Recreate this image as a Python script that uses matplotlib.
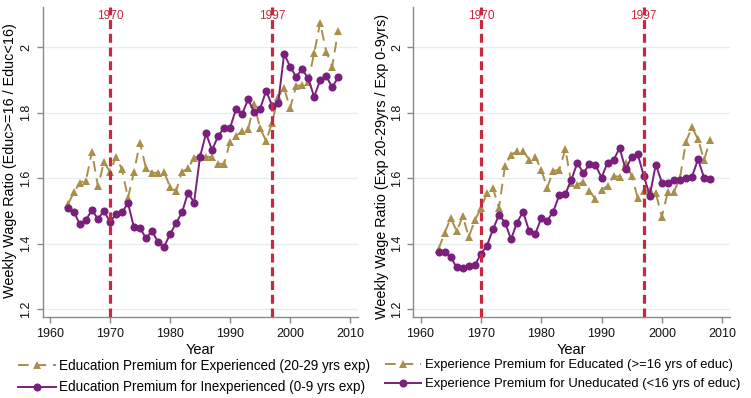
import matplotlib
matplotlib.use("Agg")
import matplotlib.pyplot as plt
import matplotlib.font_manager as fm
from matplotlib.lines import Line2D

names = {f.name for f in fm.fontManager.ttflist}
if 'Liberation Sans Narrow' in names:
    FAM = ['Liberation Sans Narrow', 'DejaVu Sans']
    K = 1.0
else:
    FAM = ['Liberation Sans', 'DejaVu Sans']
    K = 0.82
plt.rcParams['font.family'] = FAM

years = list(range(1963, 2009))

edu_prem_experienced = [1.521, 1.557, 1.587, 1.593, 1.681, 1.575, 1.650, 1.620, 1.666, 1.627,
                        1.540, 1.620, 1.709, 1.630, 1.617, 1.617, 1.620, 1.574, 1.561, 1.620,
                        1.630, 1.663, 1.668, 1.666, 1.664, 1.644, 1.644, 1.712, 1.729, 1.745,
                        1.749, 1.827, 1.753, 1.714, 1.770, 1.849, 1.875, 1.814, 1.882, 1.885,
                        1.895, 1.982, 2.075, 1.987, 1.941, 2.051]
edu_prem_inexperienced = [1.508, 1.496, 1.460, 1.473, 1.503, 1.476, 1.500, 1.467, 1.491, 1.496,
                          1.524, 1.450, 1.448, 1.417, 1.439, 1.405, 1.391, 1.429, 1.463, 1.496,
                          1.556, 1.526, 1.666, 1.737, 1.686, 1.729, 1.754, 1.754, 1.812, 1.796,
                          1.841, 1.802, 1.812, 1.867, 1.822, 1.829, 1.980, 1.941, 1.910, 1.933,
                          1.905, 1.849, 1.900, 1.912, 1.878, 1.908]
exp_prem_educated = [1.385, 1.433, 1.479, 1.438, 1.484, 1.421, 1.472, 1.508, 1.555, 1.570,
                     1.510, 1.638, 1.672, 1.684, 1.683, 1.657, 1.666, 1.626, 1.571, 1.623,
                     1.625, 1.689, 1.585, 1.581, 1.590, 1.562, 1.536, 1.565, 1.577, 1.607,
                     1.605, 1.648, 1.607, 1.541, 1.560, 1.565, 1.555, 1.483, 1.559, 1.559,
                     1.600, 1.712, 1.756, 1.719, 1.656, 1.717]
exp_prem_uneducated = [1.376, 1.376, 1.359, 1.328, 1.325, 1.332, 1.334, 1.369, 1.394, 1.444,
                       1.488, 1.465, 1.414, 1.465, 1.498, 1.439, 1.429, 1.478, 1.471, 1.498,
                       1.549, 1.552, 1.595, 1.648, 1.615, 1.644, 1.641, 1.602, 1.648, 1.656,
                       1.692, 1.627, 1.666, 1.674, 1.608, 1.547, 1.642, 1.587, 1.586, 1.595,
                       1.596, 1.600, 1.605, 1.658, 1.602, 1.598]

event_years = [1970, 1997]
xticks = [1960, 1970, 1980, 1990, 2000, 2010]
yticks = [1.2, 1.4, 1.6, 1.8, 2.0]
ytick_labels = ['1.2', '1.4', '1.6', '1.8', '2']

left_labels = ['Education Premium for Experienced (20-29 yrs exp)',
               'Education Premium for Inexperienced (0-9 yrs exp)']
right_labels = ['Experience Premium for Educated (>=16 yrs of educ)',
                'Experience Premium for Uneducated (<16 yrs of educ)']
ylabels = ['Weekly Wage Ratio (Educ>=16 / Educ<16)',
           'Weekly Wage Ratio (Exp 20-29yrs / Exp 0-9yrs)']

GOLD = '#a8904c'
PURPLE = '#7a1f7c'
RED = '#c9283e'
GRID = '#e4eef0'
AX = '#8a8a8a'

fig = plt.figure(figsize=(7.51, 3.98), dpi=100)
axL = fig.add_axes([42.7/751, 1-317.3/398, (358-42.7)/751, (317.3-7)/398])
axR = fig.add_axes([413.3/751, 1-317.3/398, (730-413.3)/751, (317.3-7)/398])

def style(ax, gold, purple, ylabel, labels, legx, ylab_x, ylab_y, legfs):
    ax.set_xlim(1958.8, 2011.3)
    ax.set_ylim(1.1756, 2.123)
    for y in yticks:
        ax.axhline(y, color=GRID, lw=1.0, zorder=0)
    ax.plot(years, gold, color=GOLD, lw=1.4, dashes=(5.5, 3.5), marker='^',
            markersize=6, markeredgewidth=0, zorder=3)
    ax.plot(years, purple, color=PURPLE, lw=1.4, marker='o', markersize=5.8,
            markeredgewidth=0, zorder=4)
    for ey in event_years:
        ax.axvline(ey, color=RED, lw=2.3, dashes=(2.8, 1.5), zorder=5)
        ax.text(ey, 2.0956, str(ey), color=RED, ha='center', va='center',
                fontsize=8.6, zorder=4)
    for s in ['top', 'right']:
        ax.spines[s].set_visible(False)
    for s in ['left', 'bottom']:
        ax.spines[s].set_color(AX)
        ax.spines[s].set_linewidth(1.0)
    ax.set_xticks(xticks)
    ax.set_yticks(yticks)
    ax.set_yticklabels(ytick_labels, rotation=90, va='center')
    ax.tick_params(axis='both', colors=AX, length=4, width=1.0,
                   labelcolor='#111111', labelsize=11*K)
    ax.tick_params(axis='y', pad=3.5)
    ax.set_xlabel('Year', fontsize=12.8*K)
    ax.xaxis.set_label_coords(0.5, -0.083)
    ax.set_ylabel(ylabel, fontsize=12.6*K)
    ax.yaxis.set_label_coords(ylab_x, ylab_y)
    handles = [Line2D([], [], color=GOLD, lw=1.4, dashes=(5.5, 3.5), marker='^',
                      markersize=6, markeredgewidth=0),
               Line2D([], [], color=PURPLE, lw=1.4, marker='o', markersize=5.8,
                      markeredgewidth=0)]
    fig.legend(handles, labels, loc='upper left', bbox_to_anchor=(legx, 1-359/398),
               frameon=False, fontsize=legfs, handlelength=2.8, handletextpad=0.25,
               labelspacing=0.55, borderpad=0, borderaxespad=0)

style(axL, edu_prem_experienced, edu_prem_inexperienced, ylabels[0], left_labels,
      18/751, (17.5-42.7)/315.3, 0.505, 11.9*K)
style(axR, exp_prem_educated, exp_prem_uneducated, ylabels[1], right_labels,
      385/751, (389-413.3)/316.7, 0.485, 11.4*K)

fig.savefig('out.png', dpi=100)
